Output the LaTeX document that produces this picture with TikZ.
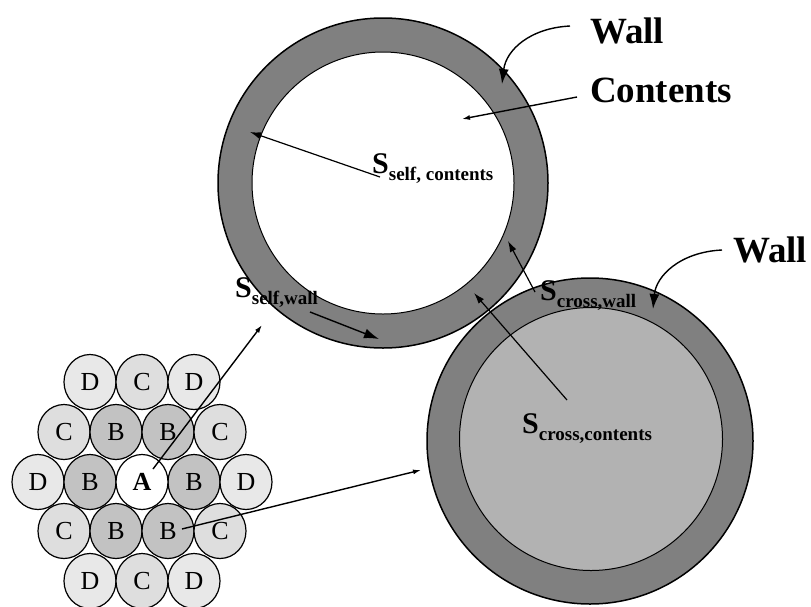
\documentclass[tikz,border=0pt]{standalone}
\usepackage{fontspec}
\setmainfont{Liberation Serif}
\usetikzlibrary{arrows.meta,shapes.geometric}
\definecolor{wallgray}{gray}{0.5}
\definecolor{contgray}{gray}{0.70}
\definecolor{bfill}{gray}{0.76}
\definecolor{cfill}{gray}{0.87}
\definecolor{dfill}{gray}{0.91}
\newcommand{\slab}[1]{{\fontsize{30}{30}\selectfont S}\raisebox{-7pt}{\fontsize{19}{19}\selectfont #1}}

\begin{document}
\begin{tikzpicture}[
			x=1pt, y=-1pt,
			wall/.style = {circle, draw, line width=1.5pt, fill=wallgray, inner sep=0pt},
			inside/.style = {circle, draw, line width=1pt, inner sep=0pt},
			ball/.style = {ellipse, draw, line width=1.2pt, minimum width=52pt, minimum height=55pt, inner sep=0pt, font=\fontsize{26}{26}\selectfont},
			big/.style = {font=\fontsize{37}{37}\selectfont\bfseries, anchor=base west, inner sep=0pt},
			sym/.style = {font=\bfseries, anchor=base west, inner sep=0pt},
			arr/.style = {-{Latex[length=11pt,width=7pt]}, line width=1.2pt},
			bigarr/.style = {-{Latex[length=15pt,width=10pt]}, line width=1.4pt},
			smallarr/.style = {-{Latex[length=8pt,width=5pt]}, line width=1.4pt}
			]
			\useasboundingbox (0,0) rectangle (811,606);
			% the two particles
			\node[wall, minimum size=330pt] (selfwall) at (383,183) {};
			\node[inside, fill=white, minimum size=262pt] (selfcont) at (383,183) {};
			\node[wall, minimum size=326pt] (crosswall) at (590,441) {};
			\node[inside, fill=contgray, minimum size=263pt] (crosscont) at (591,439) {};
			% neighbour cluster
			\foreach \name/\x/\y/\l/\col in {
				d1/90/382/D/dfill, c1/142/382/C/cfill, d2/194/382/D/dfill,
				c2/64/432/C/cfill, b1/116/432/B/bfill, b2/168/432/B/bfill, c3/220/432/C/cfill,
				d3/38/482/D/dfill, b3/90/482/B/bfill, b4/194/482/B/bfill, d4/246/482/D/dfill,
				c4/64/531/C/cfill, b5/116/531/B/bfill, b6/168/531/B/bfill, c5/220/531/C/cfill,
				d5/90/581/D/dfill, c6/142/581/C/cfill, d6/194/581/D/dfill}
				\node[ball, fill=\col] (\name) at (\x,\y) {\l};
			\node[ball, fill=white, font=\fontsize{26}{26}\selectfont\bfseries] (a) at (142,482) {A};
			% labels
			\node[big] (walltop) at (590,43) {Wall};
			\node[big] (contlab) at (590,102) {Contents};
			\node[big] (wallright) at (733,262) {Wall};
			\node[sym] (sselfc) at (372,173) {\slab{self, contents}};
			\node[sym] (sselfw) at (235,297) {\slab{self,wall}};
			\node[sym] (scrossw) at (540,300) {\slab{cross,wall}};
			\node[sym] (scrossc) at (522,433) {\slab{cross,contents}};
			% arrow ends
			\coordinate (sc tail) at (380,177);
			\coordinate (sc head) at (250,132);
			\coordinate (ct tail) at (577,97);
			\coordinate (ct head) at (462,119);
			\coordinate (w1 tail) at (570,26);
			\coordinate (w1 head) at (502,84);
			\coordinate (sw tail) at (310,312);
			\coordinate (sw head) at (379,339);
			\coordinate (a tail) at (153,469);
			\coordinate (a head) at (262,325);
			\coordinate (b tail) at (182,529);
			\coordinate (b head) at (421,470);
			\coordinate (cc tail) at (567,400);
			\coordinate (cc head) at (474,293);
			\coordinate (cw tail) at (535,292);
			\coordinate (cw head) at (508,241);
			\coordinate (w2 tail) at (722,250);
			\coordinate (w2 head) at (653,309);
			% arrows
			\draw[arr] (sc tail) -- (sc head);
			\draw[smallarr] (ct tail) -- (ct head);
			\draw[bigarr] (w1 tail) .. controls (530,28) and (506,50) .. (w1 head);
			\draw[bigarr] (sw tail) -- (sw head);
			\draw[smallarr] (a tail) -- (a head);
			\draw[smallarr] (b tail) -- (b head);
			\draw[arr] (cc tail) -- (cc head);
			\draw[arr] (cw tail) -- (cw head);
			\draw[bigarr] (w2 tail) .. controls (680,252) and (656,276) .. (w2 head);
		\end{tikzpicture}
\end{document}
